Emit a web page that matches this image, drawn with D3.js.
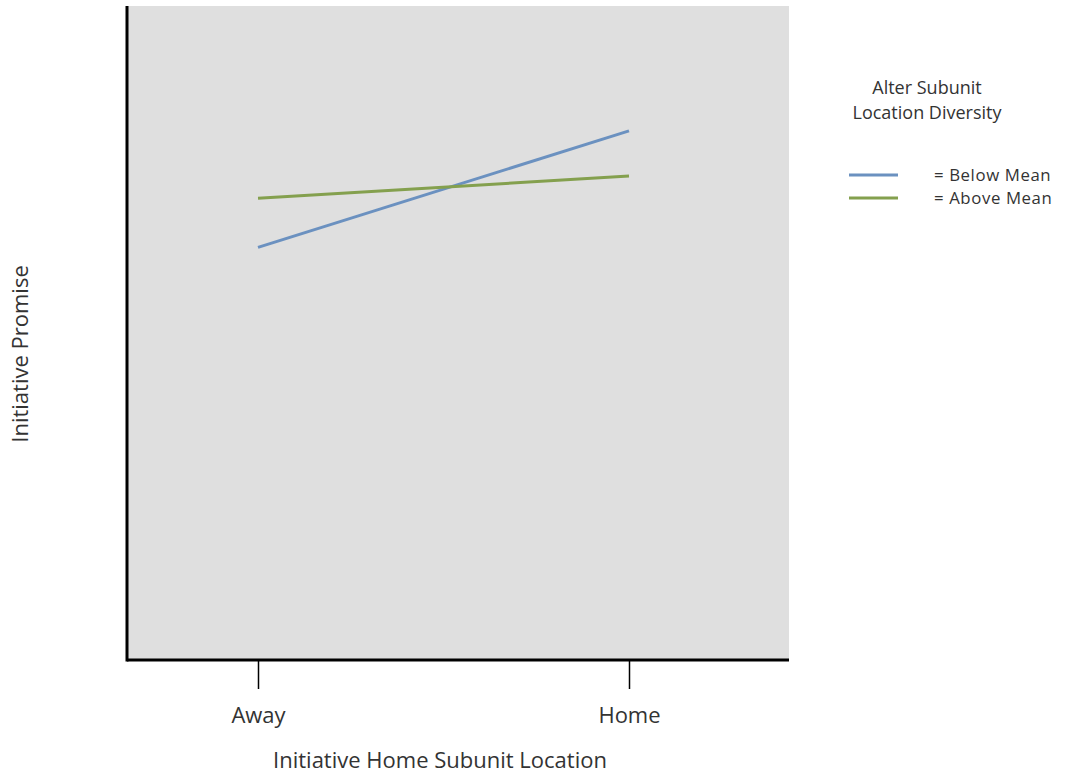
<!DOCTYPE html>
<html>
<head>
<meta charset="utf-8">
<script src="https://cdn.jsdelivr.net/npm/d3@7"></script>
<style>
  html, body { margin: 0; padding: 0; background: #fff; }
  svg { display: block; font-family: "Open Sans", sans-serif; }
</style>
</head>
<body>
<svg id="chart" width="1073" height="776"></svg>
<script>
const categories = ["Away", "Home"];
const seriesNames = ["= Below Mean", "= Above Mean"];
const belowMean = [6.31, 8.09];
const aboveMean = [7.06, 7.40];
const seriesColors = ["#6b91c0", "#84a04e"];
const legendTitle = ["Alter Subunit", "Location Diversity"];
const xTitle = "Initiative Home Subunit Location";
const yTitle = "Initiative Promise";

(function () {
const svg = d3.select("#chart");
const pL = 127, pR = 789, pT = 6, pB = 660;

const x = d3.scalePoint().domain(categories).range([pL + 131, pR - 160]).padding(0);
const y = d3.scaleLinear().domain([0, 10]).range([pB, pT]);

svg.append("rect").attr("x", pL).attr("y", pT)
  .attr("width", pR - pL).attr("height", pB - pT)
  .attr("fill", "#dfdfdf");

const series = [belowMean, aboveMean];
const line = d3.line().x((d, i) => x(categories[i])).y(d => y(d));
series.forEach((s, k) => {
  svg.append("path").datum(s).attr("d", line)
    .attr("fill", "none").attr("stroke", seriesColors[k]).attr("stroke-width", 3);
});

// axes
svg.append("line").attr("x1", pL).attr("x2", pL).attr("y1", pT).attr("y2", pB + 1.5)
  .attr("stroke", "#000").attr("stroke-width", 3);
const xAxis = d3.axisBottom(x).tickSize(29).tickPadding(18).tickSizeOuter(0);
const gx = svg.append("g").attr("transform", `translate(0,${pB})`).call(xAxis);
gx.select(".domain").attr("d", `M${pL},0H${pR}`).attr("stroke", "#000").attr("stroke-width", 3);
gx.selectAll(".tick line").attr("stroke", "#000").attr("stroke-width", 1.5);
gx.selectAll(".tick text").attr("font-size", 22).attr("fill", "#333")
  .attr("font-family", "Open Sans, sans-serif");

svg.append("text").attr("x", 440).attr("y", 768).attr("text-anchor", "middle")
  .attr("font-size", 22).attr("fill", "#333").text(xTitle);
svg.append("text").attr("transform", "translate(28,354) rotate(-90)").attr("text-anchor", "middle")
  .attr("font-size", 22).attr("fill", "#333").text(yTitle);

// legend
legendTitle.forEach((t, i) => {
  svg.append("text").attr("x", 927).attr("y", 94 + i * 25).attr("text-anchor", "middle")
    .attr("font-size", 18).attr("fill", "#333").text(t);
});
seriesNames.forEach((n, i) => {
  const yy = 175 + i * 23;
  svg.append("line").attr("x1", 849).attr("x2", 898).attr("y1", yy).attr("y2", yy)
    .attr("stroke", seriesColors[i]).attr("stroke-width", 3);
  svg.append("text").attr("x", 934).attr("y", yy + 6).attr("font-size", 16.8)
    .attr("letter-spacing", 0.6).attr("fill", "#333").text(n);
});
})();
</script>
</body>
</html>
